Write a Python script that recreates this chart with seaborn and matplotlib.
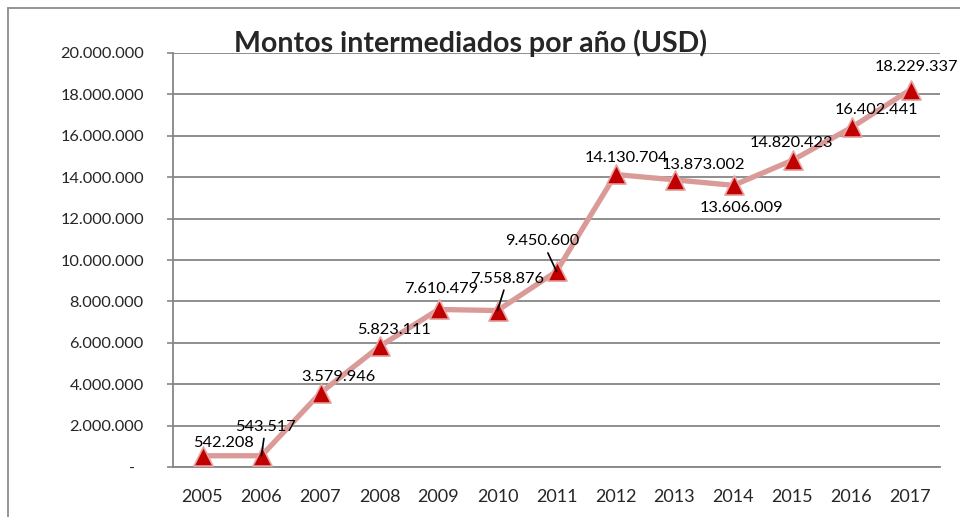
import matplotlib
matplotlib.use("Agg")
import numpy as np
import pandas as pd
import seaborn as sns
import matplotlib.pyplot as plt
from matplotlib.lines import Line2D

# data
years = ["2005", "2006", "2007", "2008", "2009", "2010", "2011",
         "2012", "2013", "2014", "2015", "2016", "2017"]
montos = [542208, 543517, 3579946, 5823111, 7610479, 7558876, 9450600,
          14130704, 13873002, 13606009, 14820423, 16402441, 18229337]
# label offsets (px) from each marker, and whether a leader line is drawn
label_dx = [21, 4, 18, 15, 3, 10, -14, 11, 29, 8, -1, 25, 6]
label_dy = [13, 29, 16, 16, 20, 32, 30, 16, 15, -23, 17, 17, 23]
leader = [False, True, False, False, False, True, True,
          False, False, False, False, False, False]
yticks = [0, 2000000, 4000000, 6000000, 8000000, 10000000,
          12000000, 14000000, 16000000, 18000000, 20000000]

sns.set_style("white")
plt.rcParams["font.family"] = ["Lato", "DejaVu Sans"]

df = pd.DataFrame({"pos": np.arange(len(years)), "monto": montos})

fig = plt.figure(figsize=(9.6, 5.17), dpi=100)
ax = fig.add_axes([173 / 960, 1 - 467 / 517, (940 - 173) / 960, (467 - 53) / 517])

sns.lineplot(data=df, x="pos", y="monto", ax=ax, color="#d99a98",
             linewidth=3.8, zorder=2)
sns.scatterplot(data=df, x="pos", y="monto", ax=ax, marker="^", s=190,
                color="#c00000", edgecolor="#e8a3a3", linewidth=1.2, zorder=3)

def fmt(v):
    return f"{v:,}".replace(",", ".")

for i, v in enumerate(montos):
    kw = {}
    if leader[i]:
        kw["arrowprops"] = dict(arrowstyle="-", color="black", lw=1.2,
                                shrinkA=1, shrinkB=0)
    ax.annotate(fmt(v), xy=(i, v), xytext=(label_dx[i] * 0.72, label_dy[i] * 0.72),
                textcoords="offset points", ha="center", va="center",
                fontsize=11.8, color="black", annotation_clip=False, **kw)

ax.set_xlim(-0.5, len(years) - 0.5)
ax.set_ylim(0, 20000000)
ax.set_yticks(yticks)
ax.set_yticklabels(["-  "] + [fmt(t) for t in yticks[1:]], fontsize=11.8)
ax.set_xticks(range(len(years)))
ax.set_xticklabels(years, fontsize=13)
ax.set_xticks(np.arange(-0.5, len(years), 1), minor=True)
ax.tick_params(axis="x", which="major", length=0, pad=16)
ax.tick_params(axis="x", which="minor", length=4, color="#868686", width=1.2)
ax.tick_params(axis="y", length=4, color="#868686", width=1.2, pad=17, left=True)
ax.set_xlabel("")
ax.set_ylabel("")
ax.grid(axis="y", color="#868686", linewidth=1.3)
ax.set_axisbelow(True)
for s in ["top", "right"]:
    ax.spines[s].set_visible(False)
for s in ["left", "bottom"]:
    ax.spines[s].set_color("#868686")
    ax.spines[s].set_linewidth(1.3)

fig.text(470 / 960, 1 - 43 / 517, "Montos intermediados por año (USD)",
         ha="center", va="center", fontsize=20.5, fontweight="bold")

# outer chart frame
fig.add_artist(Line2D([8 / 960, 8 / 960], [0, 1 - 8 / 517], color="#8c8c8c", lw=1.3))
fig.add_artist(Line2D([8 / 960, 1], [1 - 8 / 517, 1 - 8 / 517], color="#8c8c8c", lw=1.3))

fig.savefig("out.png", dpi=100)
